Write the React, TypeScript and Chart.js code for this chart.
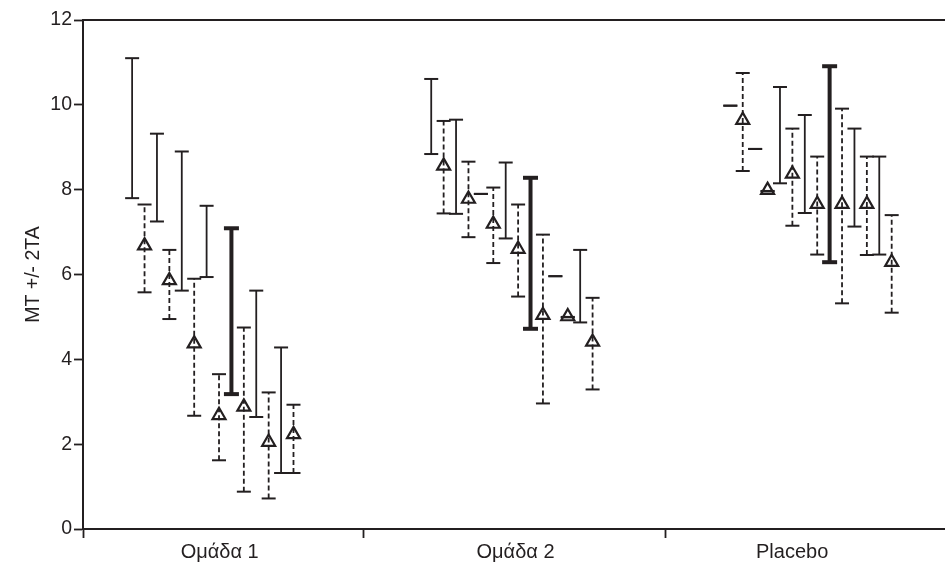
import React, { useEffect, useRef } from "react";
import { Chart, registerables } from "chart.js";

Chart.register(...registerables);

// ---- data ----
const CATEGORIES = ["Ομάδα 1", "Ομάδα 2", "Placebo"];

// solid-line intervals (7 per group); the 5th is drawn bold
const SOLID_LOW = [
  [7.8, 7.25, 5.62, 5.94, 3.18, 2.64, 1.32],
  [8.84, 7.43, 7.9, 6.85, 4.72, 5.96, 4.87],
  [9.98, 8.96, 8.15, 7.45, 6.29, 7.13, 6.47],
];
const SOLID_HIGH = [
  [11.1, 9.32, 8.9, 7.62, 7.09, 5.62, 4.28],
  [10.61, 9.65, 7.9, 8.64, 8.28, 5.96, 6.58],
  [9.98, 8.96, 10.42, 9.76, 10.91, 9.44, 8.78],
];

// dashed intervals with triangle means (7 per group)
const DASH_LOW = [
  [5.58, 4.95, 2.67, 1.62, 0.88, 0.72, 1.32],
  [7.44, 6.88, 6.27, 5.48, 2.96, 4.99, 3.29],
  [8.44, 7.96, 7.15, 6.47, 5.32, 6.46, 5.1],
];
const DASH_MEAN = [
  [6.68, 5.86, 4.37, 2.68, 2.88, 2.05, 2.23],
  [8.56, 7.78, 7.19, 6.6, 5.04, 5.01, 4.41],
  [9.64, 7.99, 8.37, 7.66, 7.66, 7.66, 6.29],
];
const DASH_HIGH = [
  [7.65, 6.58, 5.9, 3.65, 4.75, 3.22, 2.93],
  [9.62, 8.66, 8.05, 7.65, 6.94, 5.0, 5.45],
  [10.75, 7.97, 9.44, 8.78, 9.91, 8.78, 7.4],
];

const BOLD_INDEX = 4;
const Y_MIN = 0;
const Y_MAX = 12;
const Y_STEP = 2;
const Y_TITLE = "MT +/- 2TA";

// ---- layout helpers ----
const INK = "#231f20";
const FONT = "'Liberation Sans', Arial, Helvetica, sans-serif";
const SLOT = 0.0415; // spacing between neighbouring intervals, in category units
const X_MIN = -0.434;
const X_MAX = 2.448;
const BOUNDARY_TICKS = [X_MIN, 0.503, 1.515];
const LABEL_TICKS = [0.023, 1.012, 1.937];

function slotX(group: number, slot: number) {
  return group + (slot - 6.5) * SLOT;
}

export default function App() {
  const ref = useRef<HTMLCanvasElement | null>(null);

  useEffect(() => {
    if (!ref.current) return;
    const datasets: any[] = [];

    // triangles (means) first so they are drawn on top
    const means: any[] = [];
    CATEGORIES.forEach((_, g) => {
      DASH_MEAN[g].forEach((m, k) => means.push({ x: slotX(g, 2 * k + 1), y: m }));
    });
    datasets.push({
      type: "scatter",
      data: means,
      pointStyle: "triangle",
      pointRadius: 7.5,
      pointBorderWidth: 2.2,
      borderColor: INK,
      backgroundColor: "rgba(0,0,0,0)",
      pointBackgroundColor: "rgba(0,0,0,0)",
      pointBorderColor: INK,
      order: 0,
    });

    CATEGORIES.forEach((_, g) => {
      for (let k = 0; k < 7; k++) {
        const bold = k === BOLD_INDEX;
        datasets.push({
          type: "line",
          data: [
            { x: slotX(g, 2 * k), y: SOLID_LOW[g][k] },
            { x: slotX(g, 2 * k), y: SOLID_HIGH[g][k] },
          ],
          borderColor: INK,
          borderWidth: bold ? 4 : 1.8,
          pointStyle: "line",
          pointRadius: bold ? 7.5 : 7,
          pointBorderWidth: bold ? 4 : 2,
          pointBorderColor: INK,
          fill: false,
          tension: 0,
          order: 1,
        });
        datasets.push({
          type: "line",
          data: [
            { x: slotX(g, 2 * k + 1), y: DASH_LOW[g][k] },
            { x: slotX(g, 2 * k + 1), y: DASH_HIGH[g][k] },
          ],
          borderColor: INK,
          borderWidth: 1.8,
          borderDash: [5, 3],
          pointStyle: "line",
          pointRadius: 7,
          pointBorderWidth: 2,
          pointBorderColor: INK,
          fill: false,
          tension: 0,
          order: 1,
        });
      }
    });

    const xTicks = [...BOUNDARY_TICKS.map((v) => ({ v, label: "" })),
      ...LABEL_TICKS.map((v, i) => ({ v, label: CATEGORIES[i] }))].sort((a, b) => a.v - b.v);

    const chart = new Chart(ref.current, {
      type: "line",
      data: { datasets },
      options: {
        animation: false,
        responsive: false,
        events: [],
        layout: { padding: 0, autoPadding: false },
        plugins: { legend: { display: false }, tooltip: { enabled: false } },
        scales: {
          x: {
            type: "linear",
            position: "bottom",
            min: X_MIN,
            max: X_MAX,
            afterBuildTicks: (scale: any) => {
              scale.ticks = xTicks.map((t) => ({ value: t.v }));
            },
            afterFit: (scale: any) => {
              scale.height = 35;
            },
            ticks: {
              autoSkip: false,
              maxRotation: 0,
              padding: 2,
              color: INK,
              font: { family: FONT, size: 20 },
              callback: (_v: any, i: number) => xTicks[i] ? xTicks[i].label : "",
            },
            grid: {
              drawOnChartArea: false,
              tickLength: 9,
              tickWidth: 1.8,
              tickColor: (ctx: any) => (xTicks[ctx.index] && xTicks[ctx.index].label === "" ? INK : "rgba(0,0,0,0)"),
            },
            border: { display: true, color: INK, width: 2 },
          },
          xTop: {
            type: "linear",
            position: "top",
            min: X_MIN,
            max: X_MAX,
            ticks: { display: false },
            grid: { display: false },
            border: { display: true, color: INK, width: 2 },
            afterFit: (scale: any) => {
              scale.height = 20;
            },
          },
          y: {
            type: "linear",
            min: Y_MIN,
            max: Y_MAX,
            ticks: {
              stepSize: Y_STEP,
              padding: 2,
              color: INK,
              font: { family: FONT, size: 19.5 },
            },
            grid: { drawOnChartArea: false, tickLength: 9, tickWidth: 1.8, tickColor: INK },
            border: { display: true, color: INK, width: 2 },
            title: {
              display: true,
              text: Y_TITLE,
              color: INK,
              font: { family: FONT, size: 19.5, weight: "normal" },
              padding: { top: 22, bottom: 0 },
            },
            afterFit: (scale: any) => {
              scale.width = 83;
            },
          },
        },
      } as any,
    });
    return () => chart.destroy();
  }, []);

  return (
    <div style={{ position: "fixed", left: 0, top: 0, width: 945, height: 564, background: "#fff" }}>
      <canvas ref={ref} width={945} height={564} style={{ display: "block" }} />
    </div>
  );
}
